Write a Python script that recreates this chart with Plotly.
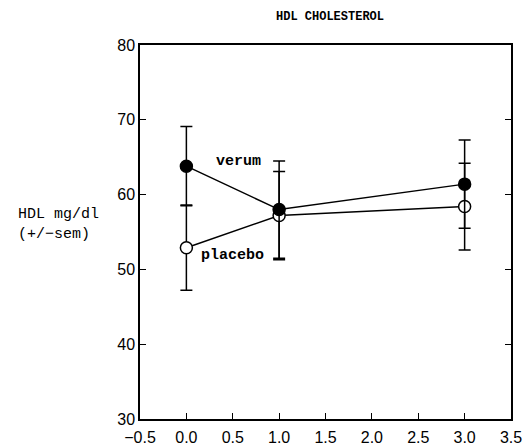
import plotly.graph_objects as go

x_vals = [0, 1, 3]
verum = [63.8, 58.0, 61.4]
verum_sem = [5.3, 6.5, 5.9]
placebo = [52.9, 57.2, 58.4]
placebo_sem = [5.7, 5.9, 5.8]
x_ticks = [-0.5, 0.0, 0.5, 1.0, 1.5, 2.0, 2.5, 3.0, 3.5]
y_ticks = [30, 40, 50, 60, 70, 80]

fig = go.Figure()
fig.add_trace(go.Scatter(
    x=x_vals, y=placebo, mode="lines+markers", name="placebo",
    line=dict(color="black", width=1.5),
    marker=dict(symbol="circle", size=12, color="white", line=dict(color="black", width=1.5)),
    error_y=dict(type="data", array=placebo_sem, color="black", thickness=1.5, width=6),
))
fig.add_trace(go.Scatter(
    x=x_vals, y=verum, mode="lines+markers", name="verum",
    line=dict(color="black", width=1.5),
    marker=dict(symbol="circle", size=12, color="black", line=dict(color="black", width=1.5)),
    error_y=dict(type="data", array=verum_sem, color="black", thickness=1.5, width=6),
))

fig.add_annotation(x=0.56, y=64.4, text="<b>verum</b>", showarrow=False,
                   font=dict(family="Liberation Mono", size=15, color="black"))
fig.add_annotation(x=0.5, y=51.9, text="<b>placebo</b>", showarrow=False,
                   font=dict(family="Liberation Mono", size=15, color="black"))
fig.add_annotation(xref="paper", yref="paper", x=-0.333, y=0.52, xanchor="left", yanchor="middle",
                   align="left", text="HDL mg/dl<br>(+/\u2212sem)", showarrow=False,
                   font=dict(family="Liberation Mono", size=15, color="black"))
fig.add_annotation(xref="paper", yref="paper", x=0.512, y=1.075, xanchor="center", yanchor="middle",
                   text="<b>HDL CHOLESTEROL</b>", showarrow=False,
                   font=dict(family="Liberation Mono", size=12, color="black"))

fig.update_layout(
    width=530, height=447,
    margin=dict(l=140, r=19, t=45, b=28),
    paper_bgcolor="white", plot_bgcolor="white",
    showlegend=False,
    font=dict(family="Liberation Sans", size=16, color="black"),
)
fig.update_xaxes(range=[-0.5, 3.5], tickvals=x_ticks, ticktext=[f"{v:.1f}".replace("-", "\u2212") for v in x_ticks],
                 ticks="inside", ticklen=6, tickcolor="black", showline=True, linecolor="black",
                 linewidth=1.5, mirror=True, showgrid=False, zeroline=False, automargin=False,
                 ticklabelstandoff=3)
fig.update_yaxes(range=[30, 80], tickvals=y_ticks, ticks="inside", ticklen=6, tickcolor="black",
                 showline=True, linecolor="black", linewidth=1.5, mirror="ticks",
                 showgrid=False, zeroline=False, automargin=False)

fig.write_html("out.html")
